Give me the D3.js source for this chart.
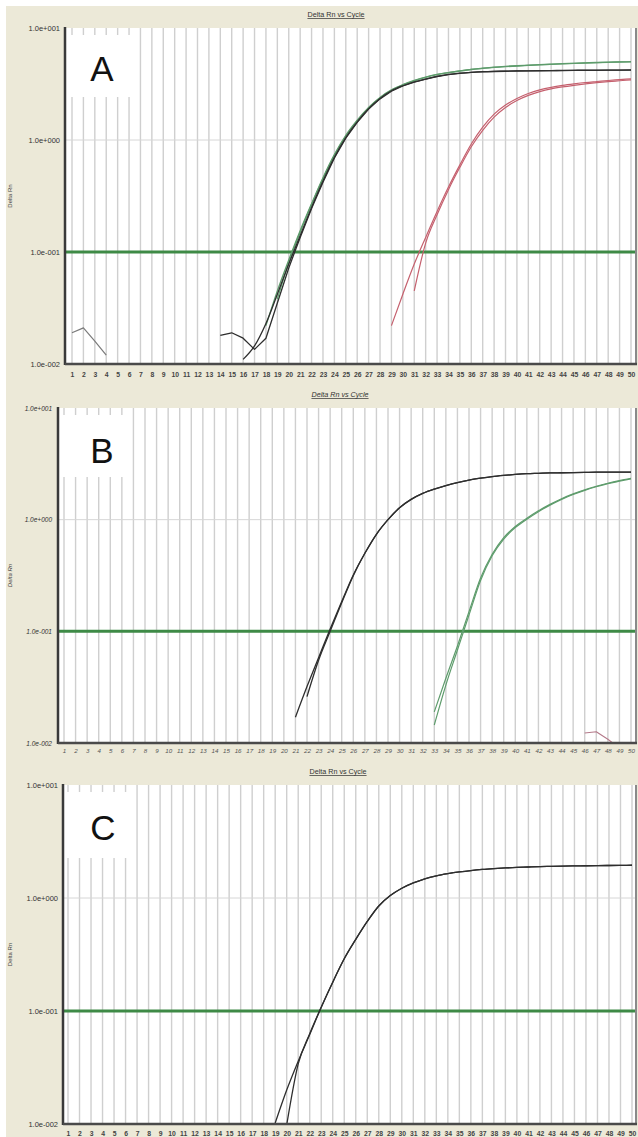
<!DOCTYPE html>
<html><head><meta charset="utf-8">
<script src="https://cdn.jsdelivr.net/npm/d3@7"></script>
<style>
html,body{margin:0;padding:0;background:#fff;}
svg{display:block;}
text{font-family:"Liberation Sans",Arial,sans-serif;}
</style></head><body>
<svg id="chart" width="638" height="1137"></svg>
<script>
// ---------- data ----------
const cycleTicks = [1,2,3,4,5,6,7,8,9,10,11,12,13,14,15,16,17,18,19,20,21,22,23,24,25,26,27,28,29,30,31,32,33,34,35,36,37,38,39,40,41,42,43,44,45,46,47,48,49,50];
const yTickValues = [0.01, 0.1, 1, 10];
const yTickLabels = ["1.0e-002", "1.0e-001", "1.0e+000", "1.0e+001"];
const thresholdValue = 0.1;
const chartTitle = "Delta Rn vs Cycle";
const yAxisTitle = "Delta Rn";
const panelLetters = ["A", "B", "C"];

// Panel A (values start at the given cycle)
const aNoise1Start = 1;
const aNoise1 = [0.019, 0.021, 0.016, 0.012];
const aBlack1Start = 16;
const aBlack1 = [0.011, 0.0145, 0.023, 0.042, 0.078, 0.14, 0.25, 0.43, 0.7, 1.05, 1.45, 1.9, 2.35, 2.75, 3.05, 3.3, 3.5, 3.7, 3.85, 3.95, 4.02, 4.07, 4.1, 4.12, 4.14, 4.15, 4.16, 4.17, 4.18, 4.19, 4.2, 4.2, 4.21, 4.21, 4.22];
const aBlack2Start = 14;
const aBlack2 = [0.018, 0.019, 0.017, 0.0135, 0.017, 0.035, 0.072, 0.135, 0.245, 0.42, 0.69, 1.04, 1.44, 1.89, 2.33, 2.73, 3.04, 3.29, 3.5, 3.69, 3.84, 3.94, 4.01, 4.06, 4.09, 4.11, 4.13, 4.14, 4.15, 4.16, 4.17, 4.18, 4.19, 4.19, 4.2, 4.2, 4.21];
const aGreen1Start = 18;
const aGreen1 = [0.022, 0.045, 0.085, 0.155, 0.27, 0.46, 0.74, 1.1, 1.5, 1.95, 2.4, 2.8, 3.12, 3.4, 3.65, 3.85, 4.0, 4.15, 4.28, 4.38, 4.47, 4.54, 4.6, 4.65, 4.7, 4.75, 4.8, 4.84, 4.88, 4.92, 4.95, 4.98, 5.0];
const aGreen2Start = 19;
const aGreen2 = [0.038, 0.08, 0.15, 0.265, 0.45, 0.73, 1.08, 1.48, 1.93, 2.38, 2.78, 3.1, 3.38, 3.63, 3.83, 3.99, 4.13, 4.26, 4.36, 4.45, 4.52, 4.58, 4.64, 4.69, 4.74, 4.79, 4.83, 4.87, 4.91, 4.94, 4.97, 4.99];
const aRed1Start = 29;
const aRed1 = [0.022, 0.042, 0.078, 0.135, 0.23, 0.38, 0.6, 0.92, 1.3, 1.7, 2.05, 2.35, 2.6, 2.8, 2.95, 3.07, 3.17, 3.26, 3.33, 3.4, 3.46, 3.52];
const aRed2Start = 31;
const aRed2 = [0.045, 0.12, 0.215, 0.36, 0.57, 0.87, 1.22, 1.6, 1.95, 2.25, 2.5, 2.7, 2.86, 2.98, 3.08, 3.17, 3.25, 3.32, 3.38, 3.44];

// Panel B
const bBlack1Start = 21;
const bBlack1 = [0.017, 0.032, 0.058, 0.105, 0.185, 0.32, 0.5, 0.74, 1.0, 1.28, 1.52, 1.72, 1.88, 2.02, 2.15, 2.26, 2.35, 2.43, 2.49, 2.54, 2.58, 2.6, 2.62, 2.63, 2.64, 2.65, 2.66, 2.66, 2.67, 2.67];
const bBlack2Start = 22;
const bBlack2 = [0.026, 0.055, 0.1, 0.18, 0.315, 0.5, 0.74, 1.0, 1.28, 1.52, 1.72, 1.88, 2.02, 2.15, 2.26, 2.35, 2.43, 2.49, 2.54, 2.58, 2.6, 2.62, 2.63, 2.64, 2.65, 2.66, 2.66, 2.67, 2.67];
const bGreen1Start = 33;
const bGreen1 = [0.019, 0.038, 0.074, 0.15, 0.3, 0.49, 0.69, 0.87, 1.03, 1.2, 1.37, 1.54, 1.7, 1.85, 1.99, 2.12, 2.24, 2.35];
const bGreen2Start = 33;
const bGreen2 = [0.0145, 0.033, 0.068, 0.14, 0.285, 0.475, 0.67, 0.85, 1.01, 1.18, 1.35, 1.52, 1.68, 1.83, 1.97, 2.1, 2.21, 2.32];
const bNoiseStart = 46;
const bNoise = [0.0123, 0.0126, 0.0108, 0.009];

// Panel C
const cBlack1Start = 19;
const cBlack1 = [0.0102, 0.02, 0.036, 0.062, 0.108, 0.18, 0.29, 0.43, 0.62, 0.85, 1.05, 1.22, 1.36, 1.48, 1.57, 1.64, 1.7, 1.75, 1.79, 1.82, 1.845, 1.865, 1.88, 1.895, 1.905, 1.915, 1.925, 1.93, 1.935, 1.94, 1.945, 1.95];
const cBlack2Start = 20;
const cBlack2 = [0.0098, 0.034, 0.063, 0.108, 0.18, 0.29, 0.43, 0.62, 0.85, 1.05, 1.22, 1.36, 1.48, 1.57, 1.64, 1.7, 1.75, 1.79, 1.82, 1.845, 1.865, 1.88, 1.895, 1.905, 1.915, 1.925, 1.93, 1.935, 1.94, 1.945, 1.95];

// ---------- layout / styles ----------
const BLACK = "#2e2e2e", GREEN = "#5e9c6c", RED = "#c5606e", GREY = "#7a7a7a", MAUVE = "#b47a8a";
const panels = [
  {letter: panelLetters[0], left: 65, right: 636, top: 28, bottom: 364, c1: 72, c50: 631, titleX: 336, titleY: 17,
   ylabRight: 60, xlabY: 375, italic: false, box: [66, 35, 69, 62], letterX: 102, letterY: 68,
   series: [
     {s: aNoise1Start, v: aNoise1, color: GREY, w: 1.2, smooth: false},
     {s: aBlack2Start, v: aBlack2, color: BLACK, w: 1.3, smooth: false},
     {s: aGreen1Start, v: aGreen1, color: GREEN, w: 1.3, smooth: true},
     {s: aGreen2Start, v: aGreen2, color: GREEN, w: 1.3, smooth: true},
     {s: aBlack1Start, v: aBlack1, color: BLACK, w: 1.3, smooth: true},
     {s: aRed1Start, v: aRed1, color: RED, w: 1.2, smooth: true},
     {s: aRed2Start, v: aRed2, color: RED, w: 1.2, smooth: true}
   ]},
  {letter: panelLetters[1], left: 58, right: 636, top: 408, bottom: 743, c1: 64, c50: 631, titleX: 340, titleY: 397,
   ylabRight: 52, xlabY: 751, italic: true, box: [59, 415, 72, 62], letterX: 102, letterY: 450,
   series: [
     {s: bBlack1Start, v: bBlack1, color: BLACK, w: 1.3, smooth: true},
     {s: bBlack2Start, v: bBlack2, color: BLACK, w: 1.3, smooth: true},
     {s: bGreen1Start, v: bGreen1, color: GREEN, w: 1.2, smooth: true},
     {s: bGreen2Start, v: bGreen2, color: GREEN, w: 1.2, smooth: true},
     {s: bNoiseStart, v: bNoise, color: MAUVE, w: 1.1, smooth: false}
   ]},
  {letter: panelLetters[2], left: 63, right: 636, top: 785, bottom: 1124, c1: 68, c50: 632, titleX: 338, titleY: 774,
   ylabRight: 58, xlabY: 1134, italic: false, box: [64, 792, 65, 66], letterX: 103, letterY: 827,
   series: [
     {s: cBlack1Start, v: cBlack1, color: BLACK, w: 1.3, smooth: true},
     {s: cBlack2Start, v: cBlack2, color: BLACK, w: 1.3, smooth: true}
   ]}
];

const svg = d3.select("#chart");
svg.append("rect").attr("x", 6).attr("y", 6).attr("width", 632).attr("height", 1131).attr("fill", "#ECE9D8");

panels.forEach((p, i) => {
  const g = svg.append("g");
  const x = d3.scaleLinear().domain([1, 50]).range([p.c1, p.c50]);
  const y = d3.scaleLog().domain([0.01, 10]).range([p.bottom, p.top]);
  const fstyle = p.italic ? "italic" : "normal";

  // plot area
  g.append("rect").attr("x", p.left).attr("y", p.top).attr("width", p.right - p.left).attr("height", p.bottom - p.top).attr("fill", "#fff");

  // vertical grid lines
  g.append("g").selectAll("line").data(cycleTicks).join("line")
    .attr("x1", d => x(d)).attr("x2", d => x(d)).attr("y1", p.top).attr("y2", p.bottom)
    .attr("stroke", "#cfcfcf").attr("stroke-width", 1.4);
  // horizontal grid line at 1.0
  g.append("g").selectAll("line").data([1]).join("line")
    .attr("x1", p.left).attr("x2", p.right).attr("y1", d => y(d)).attr("y2", d => y(d))
    .attr("stroke", "#d6d6d6").attr("stroke-width", 1);

  // letter box
  g.append("rect").attr("x", p.box[0]).attr("y", p.box[1]).attr("width", p.box[2]).attr("height", p.box[3]).attr("fill", "#fff");
  g.append("text").attr("x", p.letterX).attr("y", p.letterY).attr("text-anchor", "middle").attr("dominant-baseline", "central")
    .attr("font-size", 35).attr("fill", "#111").style("font-family", "Arial, 'Liberation Sans', sans-serif").text(p.letter);

  // threshold
  g.append("line").attr("x1", p.left).attr("x2", p.right).attr("y1", y(thresholdValue)).attr("y2", y(thresholdValue))
    .attr("stroke", "#3e8a46").attr("stroke-width", 3);

  // curves
  const clipId = "clip" + i;
  svg.append("clipPath").attr("id", clipId).append("rect")
    .attr("x", p.left).attr("y", p.top).attr("width", p.right - p.left).attr("height", p.bottom - p.top);
  const cg = g.append("g").attr("clip-path", `url(#${clipId})`);
  p.series.forEach(s => {
    const line = d3.line().x(d => x(d.c)).y(d => y(d.v)).curve(s.smooth ? d3.curveMonotoneX : d3.curveLinear);
    const pts = s.v.map((v, k) => ({c: s.s + k, v: v}));
    cg.append("path").datum(pts).attr("d", line).attr("fill", "none")
      .attr("stroke", s.color).attr("stroke-width", s.w).attr("stroke-linejoin", "round");
  });

  // frame lines
  g.append("line").attr("x1", p.right).attr("x2", p.right).attr("y1", p.top).attr("y2", p.bottom).attr("stroke", "#8a8a8a").attr("stroke-width", 2);
  g.append("line").attr("x1", p.left).attr("x2", p.left).attr("y1", p.top - 1).attr("y2", p.bottom + 1).attr("stroke", "#3a3a3a").attr("stroke-width", 2.5);
  g.append("line").attr("x1", p.left).attr("x2", p.right + 1).attr("y1", p.bottom).attr("y2", p.bottom).attr("stroke", "#4a4a4a").attr("stroke-width", 2.5);

  // y axis labels
  const yAxis = d3.axisLeft(y).tickValues(yTickValues).tickSize(0).tickPadding(0)
    .tickFormat((d, k) => yTickLabels[k]);
  const ya = g.append("g").attr("transform", `translate(${p.ylabRight},0)`).call(yAxis);
  ya.select(".domain").remove();
  ya.selectAll("text").attr("font-size", p.italic ? 6.5 : 7.5).attr("fill", "#333").style("font-style", fstyle)
    .style("font-family", "'Liberation Sans', Arial, sans-serif").attr("dy", "0.32em");

  // x axis labels
  const xAxis = d3.axisBottom(x).tickValues(cycleTicks).tickSize(0).tickPadding(0).tickFormat(d3.format("d"));
  const xa = g.append("g").attr("transform", `translate(0,${p.xlabY})`).call(xAxis);
  xa.select(".domain").remove();
  xa.selectAll("text").attr("font-size", p.italic ? 6.2 : 6.8).attr("font-weight", p.italic ? "normal" : "bold")
    .attr("fill", p.italic ? "#555" : "#444").style("font-style", fstyle).attr("dy", "0.35em")
    .style("font-family", "'Liberation Sans', Arial, sans-serif");

  // title
  g.append("text").attr("x", p.titleX).attr("y", p.titleY).attr("text-anchor", "middle")
    .attr("font-size", 7.2).attr("fill", "#333").style("font-style", fstyle).style("text-decoration", "underline")
    .text(chartTitle);

  // y-axis title
  g.append("text").attr("transform", `translate(12,${(p.top + p.bottom) / 2}) rotate(-90)`).attr("text-anchor", "middle")
    .attr("font-size", 6).attr("fill", "#444").style("font-style", fstyle).text(yAxisTitle);
});
</script>
</body></html>
